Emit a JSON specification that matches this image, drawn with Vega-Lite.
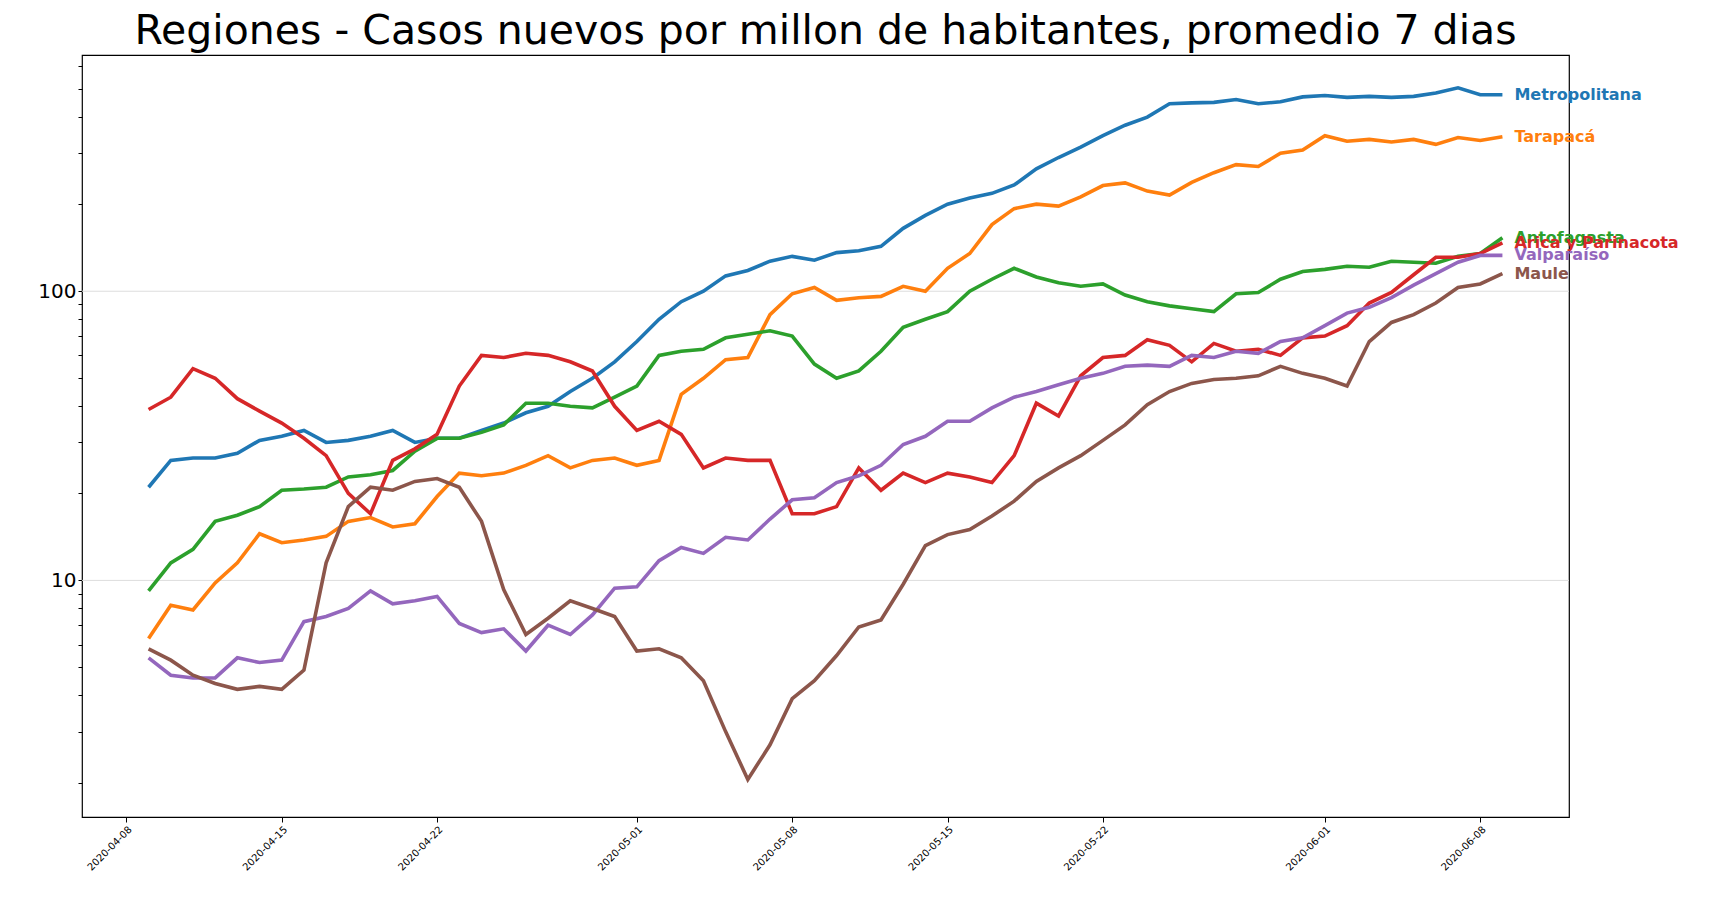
{
  "$schema": "https://vega.github.io/schema/vega-lite/v6.json",
  "width": 1487,
  "height": 762,
  "autosize": {"type": "none"},
  "padding": {"left": 82, "top": 55, "right": 146, "bottom": 87},
  "background": "white",
  "config": {"font": "DejaVu Sans", "view": {"stroke": "black", "strokeWidth": 1.2}},
  "title": {"text": "Regiones - Casos nuevos por millon de habitantes, promedio 7 dias", "fontSize": 41, "fontWeight": "normal", "font": "DejaVu Sans", "color": "black", "offset": 2},
  "datasets": {
    "wide": [
      {"d":"2020-04-09","Metropolitana":21,"Tarapacá":6.3,"Antofagasta":9.2,"Arica y Parinacota":39,"Valparaíso":5.4,"Maule":5.8},
      {"d":"2020-04-10","Metropolitana":26,"Tarapacá":8.2,"Antofagasta":11.5,"Arica y Parinacota":43,"Valparaíso":4.7,"Maule":5.3},
      {"d":"2020-04-11","Metropolitana":26.5,"Tarapacá":7.9,"Antofagasta":12.8,"Arica y Parinacota":54,"Valparaíso":4.6,"Maule":4.7},
      {"d":"2020-04-12","Metropolitana":26.5,"Tarapacá":9.8,"Antofagasta":16,"Arica y Parinacota":50,"Valparaíso":4.6,"Maule":4.4},
      {"d":"2020-04-13","Metropolitana":27.5,"Tarapacá":11.5,"Antofagasta":16.8,"Arica y Parinacota":42.5,"Valparaíso":5.4,"Maule":4.2},
      {"d":"2020-04-14","Metropolitana":30.5,"Tarapacá":14.5,"Antofagasta":18,"Arica y Parinacota":38.5,"Valparaíso":5.2,"Maule":4.3},
      {"d":"2020-04-15","Metropolitana":31.5,"Tarapacá":13.5,"Antofagasta":20.5,"Arica y Parinacota":35,"Valparaíso":5.3,"Maule":4.2},
      {"d":"2020-04-16","Metropolitana":33,"Tarapacá":13.8,"Antofagasta":20.7,"Arica y Parinacota":31,"Valparaíso":7.2,"Maule":4.9},
      {"d":"2020-04-17","Metropolitana":30,"Tarapacá":14.2,"Antofagasta":21,"Arica y Parinacota":27,"Valparaíso":7.5,"Maule":11.5},
      {"d":"2020-04-18","Metropolitana":30.5,"Tarapacá":16,"Antofagasta":22.8,"Arica y Parinacota":20,"Valparaíso":8,"Maule":18},
      {"d":"2020-04-19","Metropolitana":31.5,"Tarapacá":16.5,"Antofagasta":23.2,"Arica y Parinacota":17,"Valparaíso":9.2,"Maule":21},
      {"d":"2020-04-20","Metropolitana":33,"Tarapacá":15.3,"Antofagasta":24,"Arica y Parinacota":26,"Valparaíso":8.3,"Maule":20.5},
      {"d":"2020-04-21","Metropolitana":30,"Tarapacá":15.7,"Antofagasta":28,"Arica y Parinacota":28.5,"Valparaíso":8.5,"Maule":22},
      {"d":"2020-04-22","Metropolitana":31,"Tarapacá":19.5,"Antofagasta":31,"Arica y Parinacota":32,"Valparaíso":8.8,"Maule":22.5},
      {"d":"2020-04-23","Metropolitana":31,"Tarapacá":23.5,"Antofagasta":31,"Arica y Parinacota":47,"Valparaíso":7.1,"Maule":21},
      {"d":"2020-04-24","Metropolitana":33,"Tarapacá":23,"Antofagasta":32.5,"Arica y Parinacota":60,"Valparaíso":6.6,"Maule":16},
      {"d":"2020-04-25","Metropolitana":35,"Tarapacá":23.5,"Antofagasta":34.5,"Arica y Parinacota":59,"Valparaíso":6.8,"Maule":9.3},
      {"d":"2020-04-26","Metropolitana":38,"Tarapacá":25,"Antofagasta":41,"Arica y Parinacota":61,"Valparaíso":5.7,"Maule":6.5},
      {"d":"2020-04-27","Metropolitana":40,"Tarapacá":27,"Antofagasta":41,"Arica y Parinacota":60,"Valparaíso":7,"Maule":7.4},
      {"d":"2020-04-28","Metropolitana":45,"Tarapacá":24.5,"Antofagasta":40,"Arica y Parinacota":57,"Valparaíso":6.5,"Maule":8.5},
      {"d":"2020-04-29","Metropolitana":50,"Tarapacá":26,"Antofagasta":39.5,"Arica y Parinacota":53,"Valparaíso":7.6,"Maule":8},
      {"d":"2020-04-30","Metropolitana":57,"Tarapacá":26.5,"Antofagasta":43,"Arica y Parinacota":40,"Valparaíso":9.4,"Maule":7.5},
      {"d":"2020-05-01","Metropolitana":67,"Tarapacá":25,"Antofagasta":47,"Arica y Parinacota":33,"Valparaíso":9.5,"Maule":5.7},
      {"d":"2020-05-02","Metropolitana":80,"Tarapacá":26,"Antofagasta":60,"Arica y Parinacota":35.5,"Valparaíso":11.7,"Maule":5.8},
      {"d":"2020-05-03","Metropolitana":92,"Tarapacá":44,"Antofagasta":62,"Arica y Parinacota":32,"Valparaíso":13,"Maule":5.4},
      {"d":"2020-05-04","Metropolitana":100,"Tarapacá":50,"Antofagasta":63,"Arica y Parinacota":24.5,"Valparaíso":12.4,"Maule":4.5},
      {"d":"2020-05-05","Metropolitana":113,"Tarapacá":58,"Antofagasta":69,"Arica y Parinacota":26.5,"Valparaíso":14.1,"Maule":3},
      {"d":"2020-05-06","Metropolitana":118,"Tarapacá":59,"Antofagasta":71,"Arica y Parinacota":26,"Valparaíso":13.8,"Maule":2.05},
      {"d":"2020-05-07","Metropolitana":127,"Tarapacá":83,"Antofagasta":73,"Arica y Parinacota":26,"Valparaíso":16.3,"Maule":2.7},
      {"d":"2020-05-08","Metropolitana":132,"Tarapacá":98,"Antofagasta":70,"Arica y Parinacota":17,"Valparaíso":19,"Maule":3.9},
      {"d":"2020-05-09","Metropolitana":128,"Tarapacá":103,"Antofagasta":56,"Arica y Parinacota":17,"Valparaíso":19.3,"Maule":4.5},
      {"d":"2020-05-10","Metropolitana":136,"Tarapacá":93,"Antofagasta":50,"Arica y Parinacota":18,"Valparaíso":21.8,"Maule":5.5},
      {"d":"2020-05-11","Metropolitana":138,"Tarapacá":95,"Antofagasta":53,"Arica y Parinacota":24.5,"Valparaíso":23,"Maule":6.9},
      {"d":"2020-05-12","Metropolitana":143,"Tarapacá":96,"Antofagasta":62,"Arica y Parinacota":20.5,"Valparaíso":25,"Maule":7.3},
      {"d":"2020-05-13","Metropolitana":165,"Tarapacá":104,"Antofagasta":75,"Arica y Parinacota":23.5,"Valparaíso":29.5,"Maule":9.7},
      {"d":"2020-05-14","Metropolitana":183,"Tarapacá":100,"Antofagasta":80,"Arica y Parinacota":21.8,"Valparaíso":31.5,"Maule":13.2},
      {"d":"2020-05-15","Metropolitana":200,"Tarapacá":120,"Antofagasta":85,"Arica y Parinacota":23.5,"Valparaíso":35.5,"Maule":14.4},
      {"d":"2020-05-16","Metropolitana":210,"Tarapacá":135,"Antofagasta":100,"Arica y Parinacota":22.8,"Valparaíso":35.5,"Maule":15},
      {"d":"2020-05-17","Metropolitana":218,"Tarapacá":170,"Antofagasta":110,"Arica y Parinacota":21.8,"Valparaíso":39.5,"Maule":16.7},
      {"d":"2020-05-18","Metropolitana":233,"Tarapacá":193,"Antofagasta":120,"Arica y Parinacota":27,"Valparaíso":43,"Maule":18.8},
      {"d":"2020-05-19","Metropolitana":265,"Tarapacá":200,"Antofagasta":112,"Arica y Parinacota":41,"Valparaíso":45,"Maule":22},
      {"d":"2020-05-20","Metropolitana":290,"Tarapacá":197,"Antofagasta":107,"Arica y Parinacota":37,"Valparaíso":47.5,"Maule":24.5},
      {"d":"2020-05-21","Metropolitana":315,"Tarapacá":212,"Antofagasta":104,"Arica y Parinacota":51,"Valparaíso":50,"Maule":27},
      {"d":"2020-05-22","Metropolitana":345,"Tarapacá":232,"Antofagasta":106,"Arica y Parinacota":59,"Valparaíso":52,"Maule":30.5},
      {"d":"2020-05-23","Metropolitana":375,"Tarapacá":237,"Antofagasta":97,"Arica y Parinacota":60,"Valparaíso":55,"Maule":34.5},
      {"d":"2020-05-24","Metropolitana":400,"Tarapacá":222,"Antofagasta":92,"Arica y Parinacota":68,"Valparaíso":55.5,"Maule":40.5},
      {"d":"2020-05-25","Metropolitana":445,"Tarapacá":215,"Antofagasta":89,"Arica y Parinacota":65,"Valparaíso":55,"Maule":45},
      {"d":"2020-05-26","Metropolitana":448,"Tarapacá":238,"Antofagasta":87,"Arica y Parinacota":57,"Valparaíso":60,"Maule":48},
      {"d":"2020-05-27","Metropolitana":450,"Tarapacá":257,"Antofagasta":85,"Arica y Parinacota":66,"Valparaíso":59,"Maule":49.5},
      {"d":"2020-05-28","Metropolitana":460,"Tarapacá":274,"Antofagasta":98,"Arica y Parinacota":62,"Valparaíso":62,"Maule":50},
      {"d":"2020-05-29","Metropolitana":445,"Tarapacá":270,"Antofagasta":99,"Arica y Parinacota":63,"Valparaíso":61,"Maule":51},
      {"d":"2020-05-30","Metropolitana":452,"Tarapacá":300,"Antofagasta":110,"Arica y Parinacota":60,"Valparaíso":67,"Maule":55},
      {"d":"2020-05-31","Metropolitana":470,"Tarapacá":308,"Antofagasta":117,"Arica y Parinacota":69,"Valparaíso":69,"Maule":52},
      {"d":"2020-06-01","Metropolitana":475,"Tarapacá":345,"Antofagasta":119,"Arica y Parinacota":70,"Valparaíso":76,"Maule":50},
      {"d":"2020-06-02","Metropolitana":468,"Tarapacá":330,"Antofagasta":122,"Arica y Parinacota":76,"Valparaíso":84,"Maule":47},
      {"d":"2020-06-03","Metropolitana":472,"Tarapacá":335,"Antofagasta":121,"Arica y Parinacota":91,"Valparaíso":88,"Maule":67},
      {"d":"2020-06-04","Metropolitana":468,"Tarapacá":328,"Antofagasta":127,"Arica y Parinacota":99,"Valparaíso":95,"Maule":78},
      {"d":"2020-06-05","Metropolitana":472,"Tarapacá":335,"Antofagasta":126,"Arica y Parinacota":114,"Valparaíso":105,"Maule":83},
      {"d":"2020-06-06","Metropolitana":485,"Tarapacá":322,"Antofagasta":125,"Arica y Parinacota":131,"Valparaíso":115,"Maule":91},
      {"d":"2020-06-07","Metropolitana":505,"Tarapacá":340,"Antofagasta":132,"Arica y Parinacota":131,"Valparaíso":126,"Maule":103},
      {"d":"2020-06-08","Metropolitana":478,"Tarapacá":332,"Antofagasta":135,"Arica y Parinacota":135,"Valparaíso":133,"Maule":106},
      {"d":"2020-06-09","Metropolitana":478,"Tarapacá":342,"Antofagasta":153,"Arica y Parinacota":147,"Valparaíso":133,"Maule":115}
    ],
    "grid": [{"v": 10}, {"v": 100}]
  },
  "encoding": {
    "y": {
      "type": "quantitative",
      "scale": {"type": "log", "domain": [1.52, 656], "nice": false},
      "axis": {
        "title": null,
        "grid": false,
        "values": [2,3,4,5,6,7,8,9,10,20,30,40,50,60,70,80,90,100,200,300,400,500,600],
        "labelExpr": "datum.value == 10 || datum.value == 100 ? datum.value : ''",
        "labelFontSize": 20,
        "labelColor": "black",
        "labelFont": "DejaVu Sans",
        "tickColor": "black",
        "tickSize": 4,
        "domain": false
      }
    }
  },
  "layer": [
    {
      "data": {"name": "grid"},
      "mark": {"type": "rule", "color": "#dddddd", "strokeWidth": 1},
      "encoding": {"y": {"field": "v", "type": "quantitative"}}
    },
    {
      "data": {"name": "wide"},
      "transform": [{"fold": ["Metropolitana", "Tarapacá", "Antofagasta", "Arica y Parinacota", "Valparaíso", "Maule"], "as": ["region", "value"]}],
      "layer": [
        {
          "mark": {"type": "line", "strokeWidth": 3.6, "clip": false},
          "encoding": {
            "x": {
              "field": "d", "type": "temporal",
              "scale": {"domain": ["2020-04-06", "2020-06-12"]},
              "axis": {
                "title": null, "grid": false, "domain": false, "format": "%Y-%m-%d",
                "values": ["2020-04-08", "2020-04-15", "2020-04-22", "2020-05-01", "2020-05-08", "2020-05-15", "2020-05-22", "2020-06-01", "2020-06-08"],
                "labelAngle": -45, "labelFontSize": 10, "labelColor": "black", "tickColor": "black", "labelFont": "DejaVu Sans"
              }
            },
            "y": {"field": "value", "type": "quantitative"},
            "color": {
              "field": "region", "type": "nominal", "legend": null,
              "scale": {
                "domain": ["Metropolitana", "Tarapacá", "Antofagasta", "Arica y Parinacota", "Valparaíso", "Maule"],
                "range": ["#1f77b4", "#ff7f0e", "#2ca02c", "#d62728", "#9467bd", "#8c564b"]
              }
            }
          }
        },
        {
          "transform": [{"filter": "+datum.d >= +toDate('2020-06-08T12:00:00')"}],
          "mark": {"type": "text", "align": "left", "dx": 12, "fontSize": 16, "fontWeight": "bold", "font": "DejaVu Sans"},
          "encoding": {
            "x": {"field": "d", "type": "temporal"},
            "y": {"field": "value", "type": "quantitative"},
            "text": {"field": "region"},
            "color": {"field": "region", "type": "nominal", "legend": null}
          }
        }
      ]
    }
  ]
}
